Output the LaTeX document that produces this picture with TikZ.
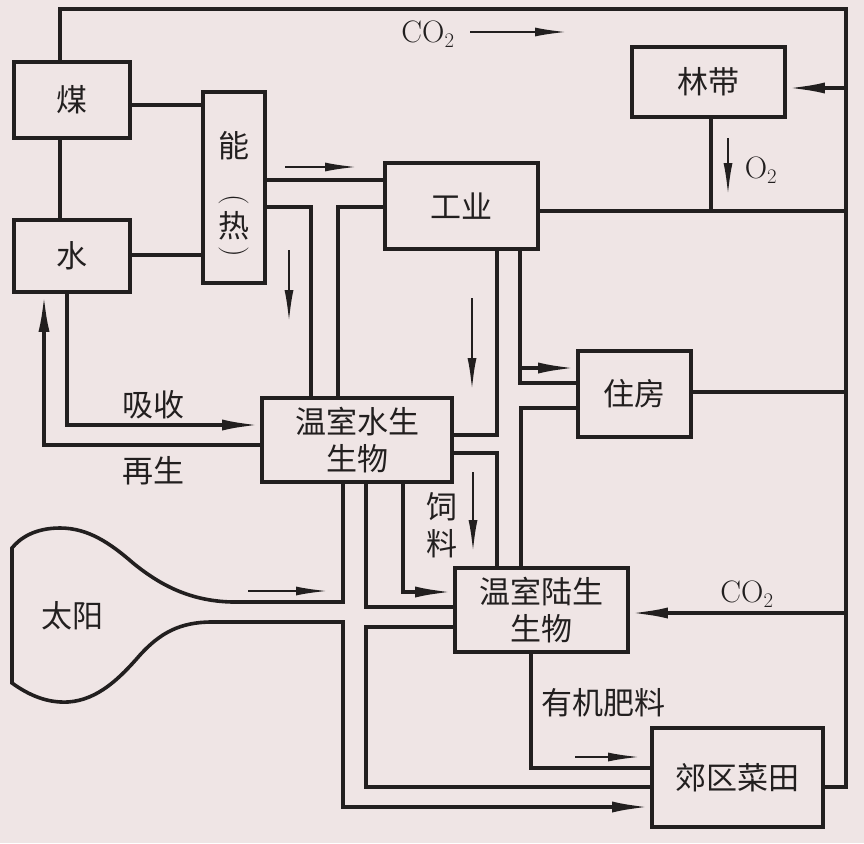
\documentclass[tikz,border=0pt]{standalone}
\usepackage{fontspec}
\newfontfamily\cjk{Noto Sans CJK SC}
\usetikzlibrary{arrows.meta}
\definecolor{bg}{RGB}{239,229,229}
\definecolor{ink}{RGB}{34,31,31}
\begin{document}
\begin{tikzpicture}[x=1pt,y=-1pt,
  box/.style={draw=ink, line width=3.6pt, inner sep=0pt, align=center, text=ink,
    font=\cjk\fontsize{31}{37}\selectfont},
  lbl/.style={inner sep=0pt, text=ink, font=\cjk\fontsize{31}{37}\selectfont},
  latin/.style={inner sep=0pt, text=ink, font=\fontsize{31}{34}\selectfont},
  paren/.style={inner sep=0pt, text=ink, rotate=-90, font=\fontsize{30}{30}\selectfont},
  con/.style={draw=ink, line width=3.6pt, line join=miter},
  carr/.style={con, -{Latex[length=38pt,width=11pt]}},
  arr/.style={draw=ink, line width=2.2pt, -{Latex[length=32pt,width=9pt]}}]
\fill[bg] (0,0) rectangle (864,843);
\useasboundingbox (0,0) rectangle (864,843);

% boxes
\node[box, minimum width=116pt, minimum height=76pt] (mei) at (72,100) {煤};
\node[box, minimum width=116pt, minimum height=72pt] (shui) at (72,256) {水};
\node[box, minimum width=62pt, minimum height=191pt] (neng) at (234,187.5) {};
\node[lbl] (nengA) at (234,146) {能};
\node[paren] (nengB) at (234,200) {(};
\node[lbl] (nengC) at (234,226) {热};
\node[paren] (nengD) at (234,252) {)};
\node[box, minimum width=153pt, minimum height=86pt] (gy) at (461.5,206) {工业};
\node[box, minimum width=153pt, minimum height=70pt] (ld) at (708.5,82) {林带};
\node[box, minimum width=113pt, minimum height=86pt] (zf) at (634.5,394) {住房};
\node[box, minimum width=190pt, minimum height=84pt] (wss) at (357,440) {温室水生\\生物};
\node[box, minimum width=173pt, minimum height=84pt] (wsl) at (541.5,610) {温室陆生\\生物};
\node[box, minimum width=171pt, minimum height=99pt] (jq) at (737.5,777.5) {郊区菜田};
\node[lbl] (sun) at (72,616) {太阳};

% corner coordinates
\coordinate (tl) at (60,9);
\coordinate (tr) at (846,9);
\coordinate (br) at (846,787);

% main connectors
\draw[con] (mei.north -| tl) -- (tl) -- (tr) -- (br) -- (jq.east |- br);
\draw[con] (mei.south -| tl) -- (shui.north -| tl);
\draw[con] (mei.east |- 0,105) -- (neng.west |- 0,105);
\draw[con] (shui.east |- 0,255) -- (neng.west |- 0,255);
\draw[con] (neng.east |- 0,180) -- (gy.west |- 0,180);
\draw[con] (neng.east |- 0,207) -- (311,207) -- (wss.north -| 311,0);
\draw[con] (gy.west |- 0,207) -- (338,207) -- (wss.north -| 338,0);
\draw[con] (gy.east |- 0,211) -- (846,211);
\draw[con] (ld.south -| 711,0) -- (711,211);
\draw[carr] (846,88) -- (ld.east |- 0,88);
\draw[carr] (shui.south -| 67,0) -- (67,425) -- (wss.west |- 0,425);
\draw[carr] (wss.west |- 0,445) -- (44,445) -- (shui.south -| 44,0);
\draw[con] (gy.south -| 497,0) -- (497,435) -- (wss.east |- 0,435);
\draw[con] (gy.south -| 520,0) -- (520,383) -- (zf.west |- 0,383);
\draw[carr] (520,368) -- (zf.west |- 0,368);
\draw[con] (zf.east |- 0,392) -- (846,392);
\draw[con] (zf.west |- 0,408) -- (521,408) -- (wsl.north -| 521,0);
\draw[con] (wss.east |- 0,453) -- (497,453) -- (wsl.north -| 497,0);
\draw[carr] (wss.south -| 403,0) -- (403,592) -- (wsl.west |- 0,592);
\draw[con] (wss.south -| 366,0) -- (366,607) -- (wsl.west |- 0,607);
\draw[con] (wsl.west |- 0,627) -- (366,627) -- (366,787) -- (jq.west |- 0,787);
\draw[con] (wsl.south -| 531,0) -- (531,768) -- (jq.west |- 0,768);
\draw[carr] (846,613) -- (wsl.east |- 0,613);

% sun channel
\draw[carr] (wss.south -| 343,0) -- (343,602) -- (232,602)
  .. controls (190,601) and (160,585) .. (133,563)
  .. controls (110,543) and (88,528) .. (60,528)
  .. controls (35,528) and (20,538) .. (12,548)
  -- (12,683)
  .. controls (30,696) and (48,703) .. (68,702)
  .. controls (98,700) and (120,678) .. (140,655)
  .. controls (160,633) and (180,622) .. (212,622)
  -- (343,622) -- (343,807) -- (jq.west |- 0,807);

% free-standing flow arrows
\coordinate (a1s) at (470,32);  \coordinate (a1e) at (567,32);
\coordinate (a2s) at (728,138); \coordinate (a2e) at (728,195);
\coordinate (a3s) at (285,167); \coordinate (a3e) at (357,167);
\coordinate (a4s) at (289,250); \coordinate (a4e) at (289,322);
\coordinate (a5s) at (472,298); \coordinate (a5e) at (472,390);
\coordinate (a6s) at (473,472); \coordinate (a6e) at (473,552);
\coordinate (a7s) at (248,591); \coordinate (a7e) at (328,591);
\coordinate (a8s) at (575,757); \coordinate (a8e) at (640,757);
\draw[arr] (a1s) -- (a1e);
\draw[arr] (a2s) -- (a2e);
\draw[arr] (a3s) -- (a3e);
\draw[arr] (a4s) -- (a4e);
\draw[arr] (a5s) -- (a5e);
\draw[arr] (a6s) -- (a6e);
\draw[arr] (a7s) -- (a7e);
\draw[arr] (a8s) -- (a8e);

% labels
\node[latin] (co2a) at (428,34) {CO$_2$};
\node[latin] (o2) at (761,170) {O$_2$};
\node[latin] (co2b) at (747,594) {CO$_2$};
\node[lbl] (xishou) at (153,405) {吸收};
\node[lbl] (zaisheng) at (153,471) {再生};
\node[lbl, align=center] (siliao) at (442,525) {饲\\料};
\node[lbl] (feiliao) at (603,703) {有机肥料};
\end{tikzpicture}
\end{document}
